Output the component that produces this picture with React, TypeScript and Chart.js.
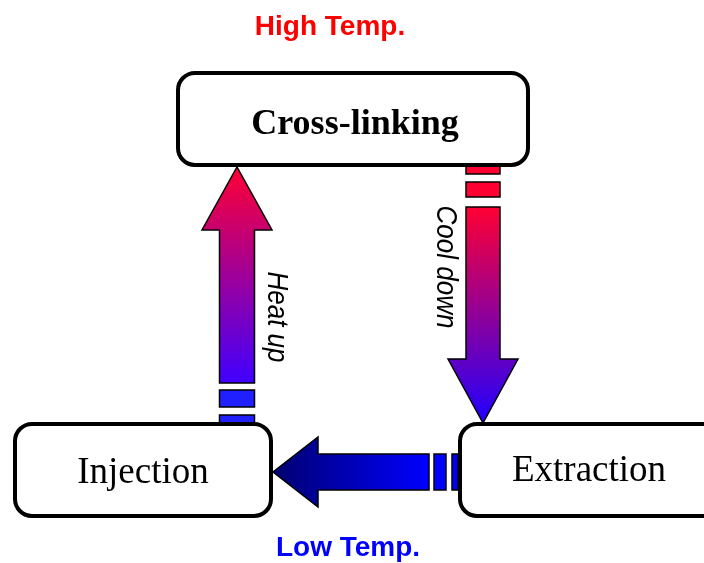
import React, { useEffect, useRef } from 'react';
import { Chart, registerables } from 'chart.js';

Chart.register(...registerables);

// ---- data ----
const nodeLabels = ['Cross-linking', 'Injection', 'Extraction'];
const nodeCenterX = [353, 143, 588];
const nodeCenterY = [119, 470, 470];

const flowLabels = ['Heat up', 'Cool down', ''];
const flowTailX = [237, 483, 458];
const flowTailY = [424, 165, 472];
const flowTipX = [237, 483, 273];
const flowTipY = [167, 423, 472];
const flowLabelX = [268, 437, 0];
const flowLabelY = [317, 267, 0];

const zoneLabels = ['High Temp.', 'Low Temp.'];
const zoneX = [330, 348];
const zoneY = [35, 556];

// ---- styles ----
// boxLeft/boxRight: extent of the box path relative to the node centre
const nodeStyles = [
  { left: 175, right: 175, h: 92, font: 'bold 36px "Liberation Serif", "Times New Roman", serif', textDx: 2, textDy: 15 },
  { left: 128, right: 128, h: 92, font: '37px "Liberation Serif", "Times New Roman", serif', textDx: 0, textDy: 13 },
  { left: 128, right: 180, h: 92, font: '37px "Liberation Serif", "Times New Roman", serif', textDx: 1, textDy: 11 },
];

const arrowStyles = [
  { shaft: 35, headW: 70, headLen: 63, stubs: [[0, 9], [17, 34]], shaftStart: 41, stubColor: '#2020FF', gradFrom: '#4000FF', gradTo: '#FF0033' },
  { shaft: 34, headW: 70, headLen: 64, stubs: [[0, 9], [17, 32]], shaftStart: 42, stubColor: '#FF0033', gradFrom: '#FF0033', gradTo: '#2000FF' },
  { shaft: 36, headW: 70, headLen: 45, stubs: [[0, 6], [12, 24]], shaftStart: 29, stubColor: '#0000FF', gradFrom: '#0000FF', gradTo: '#000070' },
];

const zoneColors = ['#FF0000', '#0000FF'];

function roundRectPath(ctx: CanvasRenderingContext2D, x: number, y: number, w: number, h: number, r: number) {
  ctx.beginPath();
  ctx.moveTo(x + r, y);
  ctx.lineTo(x + w - r, y);
  ctx.arcTo(x + w, y, x + w, y + r, r);
  ctx.lineTo(x + w, y + h - r);
  ctx.arcTo(x + w, y + h, x + w - r, y + h, r);
  ctx.lineTo(x + r, y + h);
  ctx.arcTo(x, y + h, x, y + h - r, r);
  ctx.lineTo(x, y + r);
  ctx.arcTo(x, y, x + r, y, r);
  ctx.closePath();
}

function drawArrow(ctx: CanvasRenderingContext2D, tx: number, ty: number, px: number, py: number, st: any) {
  const dx = px - tx;
  const dy = py - ty;
  const L = Math.hypot(dx, dy);
  const ang = Math.atan2(dy, dx);
  ctx.save();
  ctx.translate(tx, ty);
  ctx.rotate(ang);
  ctx.lineWidth = 1.5;
  ctx.strokeStyle = '#000';
  ctx.lineJoin = 'miter';
  for (const [a, b] of st.stubs) {
    ctx.fillStyle = st.stubColor;
    ctx.beginPath();
    ctx.rect(a, -st.shaft / 2, b - a, st.shaft);
    ctx.fill();
    ctx.stroke();
  }
  const g = ctx.createLinearGradient(st.shaftStart, 0, L, 0);
  g.addColorStop(0, st.gradFrom);
  g.addColorStop(1, st.gradTo);
  const hb = L - st.headLen;
  ctx.beginPath();
  ctx.moveTo(st.shaftStart, -st.shaft / 2);
  ctx.lineTo(hb, -st.shaft / 2);
  ctx.lineTo(hb, -st.headW / 2);
  ctx.lineTo(L, 0);
  ctx.lineTo(hb, st.headW / 2);
  ctx.lineTo(hb, st.shaft / 2);
  ctx.lineTo(st.shaftStart, st.shaft / 2);
  ctx.closePath();
  ctx.fillStyle = g;
  ctx.fill();
  ctx.stroke();
  ctx.restore();
}

const diagramPlugin = {
  id: 'diagram',
  afterDatasetsDraw(chart: any) {
    const ctx: CanvasRenderingContext2D = chart.ctx;
    const xs = chart.scales.x;
    const ys = chart.scales.y;
    const X = (v: number) => xs.getPixelForValue(v);
    const Y = (v: number) => ys.getPixelForValue(v);

    ctx.save();
    // arrows
    for (let i = 0; i < flowTailX.length; i++) {
      drawArrow(ctx, X(flowTailX[i]), Y(flowTailY[i]), X(flowTipX[i]), Y(flowTipY[i]), arrowStyles[i]);
    }
    // flow labels (rotated)
    ctx.fillStyle = '#000';
    for (let i = 0; i < flowLabels.length; i++) {
      if (!flowLabels[i]) continue;
      ctx.save();
      ctx.translate(X(flowLabelX[i]), Y(flowLabelY[i]));
      ctx.rotate(Math.PI / 2);
      ctx.scale(1, 1.12);
      ctx.font = 'italic 26px "Liberation Sans", Arial, sans-serif';
      ctx.textAlign = 'center';
      ctx.textBaseline = 'alphabetic';
      ctx.fillText(flowLabels[i], 0, 0);
      ctx.restore();
    }
    // nodes
    for (let i = 0; i < nodeLabels.length; i++) {
      const st = nodeStyles[i];
      const cx = X(nodeCenterX[i]);
      const cy = Y(nodeCenterY[i]);
      roundRectPath(ctx, cx - st.left, cy - st.h / 2, st.left + st.right, st.h, 17);
      ctx.fillStyle = '#FFFFFF';
      ctx.fill();
      ctx.lineWidth = 4;
      ctx.strokeStyle = '#000';
      ctx.stroke();
      ctx.fillStyle = '#000';
      ctx.font = st.font;
      ctx.textAlign = 'center';
      ctx.textBaseline = 'alphabetic';
      ctx.fillText(nodeLabels[i], cx + st.textDx, cy + st.textDy);
    }
    // zone labels
    for (let i = 0; i < zoneLabels.length; i++) {
      ctx.fillStyle = zoneColors[i];
      ctx.font = 'bold 28px "Liberation Sans", Arial, sans-serif';
      ctx.textAlign = 'center';
      ctx.textBaseline = 'alphabetic';
      ctx.fillText(zoneLabels[i], X(zoneX[i]), Y(zoneY[i]));
    }
    ctx.restore();
  },
};

export default function App() {
  const canvasRef = useRef<HTMLCanvasElement | null>(null);

  useEffect(() => {
    const canvas = canvasRef.current;
    if (!canvas) return;
    const chart = new Chart(canvas, {
      type: 'scatter',
      data: {
        datasets: [
          {
            label: 'nodes',
            data: nodeCenterX.map((x, i) => ({ x, y: nodeCenterY[i] })),
            pointRadius: 0,
          },
          {
            label: 'flows',
            data: flowTipX.map((x, i) => ({ x, y: flowTipY[i] })),
            pointRadius: 0,
          },
        ],
      },
      options: {
        responsive: false,
        animation: false,
        devicePixelRatio: 1,
        layout: { padding: 0 },
        plugins: { legend: { display: false }, tooltip: { enabled: false }, title: { display: false } },
        scales: {
          x: { type: 'linear', min: 0, max: 704, display: false },
          y: { type: 'linear', min: 0, max: 563, reverse: true, display: false },
        },
      },
      plugins: [diagramPlugin],
    });
    return () => chart.destroy();
  }, []);

  return (
    <div style={{ position: 'fixed', left: 0, top: 0, width: 704, height: 563, background: '#fff' }}>
      <canvas ref={canvasRef} width={704} height={563} style={{ display: 'block' }} />
    </div>
  );
}
